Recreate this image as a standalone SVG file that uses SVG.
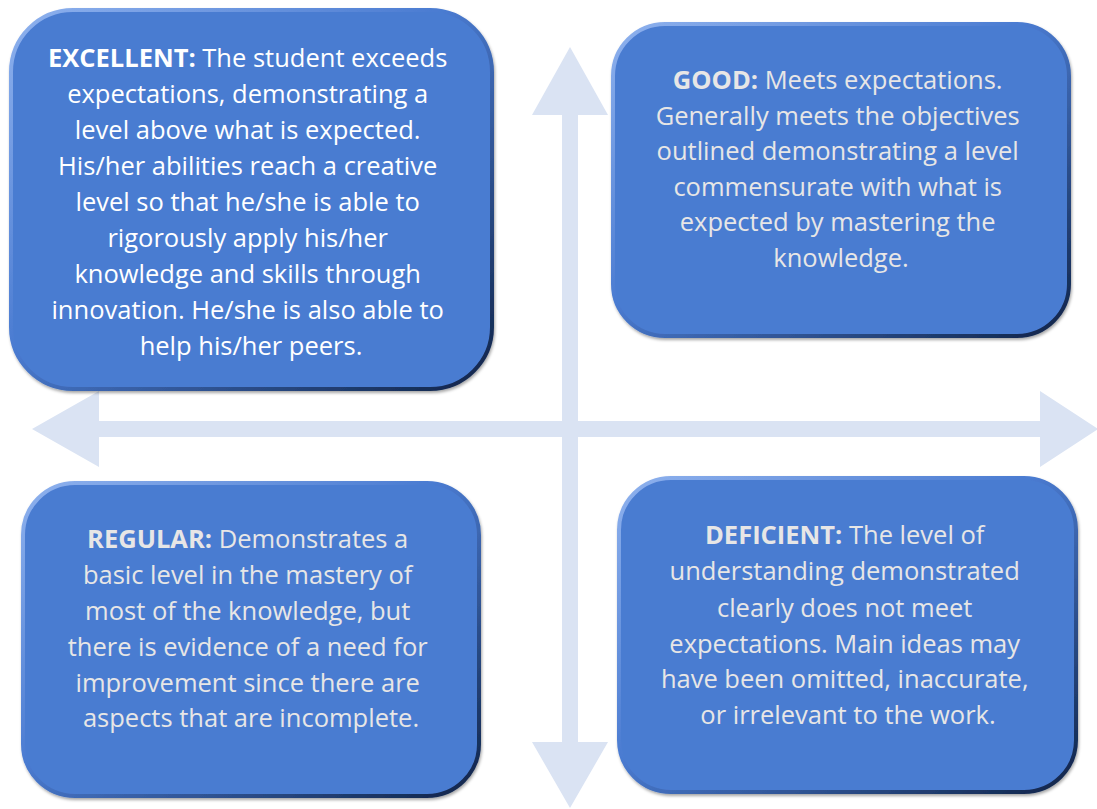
<svg xmlns="http://www.w3.org/2000/svg" width="1097" height="809" viewBox="0 0 1097 809">
<defs>
<linearGradient id="edge" x1="0" y1="0" x2="1" y2="1">
<stop offset="0" stop-color="#8fb2ee"/>
<stop offset="0.45" stop-color="#4a7bd1"/>
<stop offset="1" stop-color="#0f2347"/>
</linearGradient>
<filter id="sh" x="-5%" y="-5%" width="110%" height="110%">
<feGaussianBlur in="SourceAlpha" stdDeviation="1.5"/>
<feOffset dx="1" dy="2" result="b"/>
<feFlood flood-color="#000" flood-opacity="0.35"/>
<feComposite in2="b" operator="in"/>
<feMerge><feMergeNode/><feMergeNode in="SourceGraphic"/></feMerge>
</filter>
</defs>
<style>
.box{fill:#4a7bd1;stroke:url(#edge);stroke-width:4;filter:url(#sh)}
.t{font-family:"Open Sans",Lato,"Liberation Sans",sans-serif;font-size:25.5px;text-anchor:middle}
.w{fill:#ffffff}
.g{fill:#e7e6e6}
.b{font-weight:bold}
.arrow{fill:#dae3f3}
</style>
<rect width="1097" height="809" fill="#ffffff"/>
<g id="connectors">
<polygon class="arrow" points="570,47 608,115 578,115 578,742 608,742 570,808 532,742 562,742 562,115 532,115"/>
<polygon class="arrow" points="32,429 99,391 99,421 1040,421 1040,391 1098,429 1040,467 1040,437 99,437 99,467"/>
</g>
<g id="excellent">
<rect class="box" x="11" y="10" width="481" height="379" rx="62"/>
<text class="t w">
<tspan x="251" y="67"><tspan class="b">EXCELLENT:</tspan> The student exceeds</tspan>
<tspan x="251" y="103">expectations, demonstrating a</tspan>
<tspan x="251" y="139">level above what is expected.</tspan>
<tspan x="251" y="175">His/her abilities reach a creative</tspan>
<tspan x="251" y="211">level so that he/she is able to</tspan>
<tspan x="251" y="247">rigorously apply his/her</tspan>
<tspan x="251" y="283">knowledge and skills through</tspan>
<tspan x="251" y="319">innovation. He/she is also able to</tspan>
<tspan x="251" y="355">help his/her peers.</tspan>
</text>
</g>
<g id="good">
<rect class="box" x="613" y="24" width="456" height="312" rx="52"/>
<text class="t g">
<tspan x="841" y="89"><tspan class="b">GOOD:</tspan> Meets expectations.</tspan>
<tspan x="841" y="125">Generally meets the objectives</tspan>
<tspan x="841" y="160">outlined demonstrating a level</tspan>
<tspan x="841" y="196">commensurate with what is</tspan>
<tspan x="841" y="231">expected by mastering the</tspan>
<tspan x="841" y="267">knowledge.</tspan>
</text>
</g>
<g id="regular">
<rect class="box" x="23" y="483" width="456" height="313" rx="52"/>
<text class="t g">
<tspan x="251" y="548"><tspan class="b">REGULAR:</tspan> Demonstrates a</tspan>
<tspan x="251" y="584">basic level in the mastery of</tspan>
<tspan x="251" y="620">most of the knowledge, but</tspan>
<tspan x="251" y="656">there is evidence of a need for</tspan>
<tspan x="251" y="692">improvement since there are</tspan>
<tspan x="251" y="727">aspects that are incomplete.</tspan>
</text>
</g>
<g id="deficient">
<rect class="box" x="619" y="478" width="457" height="314" rx="52"/>
<text class="t g">
<tspan x="848" y="544"><tspan class="b">DEFICIENT:</tspan> The level of</tspan>
<tspan x="848" y="580">understanding demonstrated</tspan>
<tspan x="848" y="617">clearly does not meet</tspan>
<tspan x="848" y="653">expectations. Main ideas may</tspan>
<tspan x="848" y="688">have been omitted, inaccurate,</tspan>
<tspan x="848" y="724">or irrelevant to the work.</tspan>
</text>
</g>
</svg>
